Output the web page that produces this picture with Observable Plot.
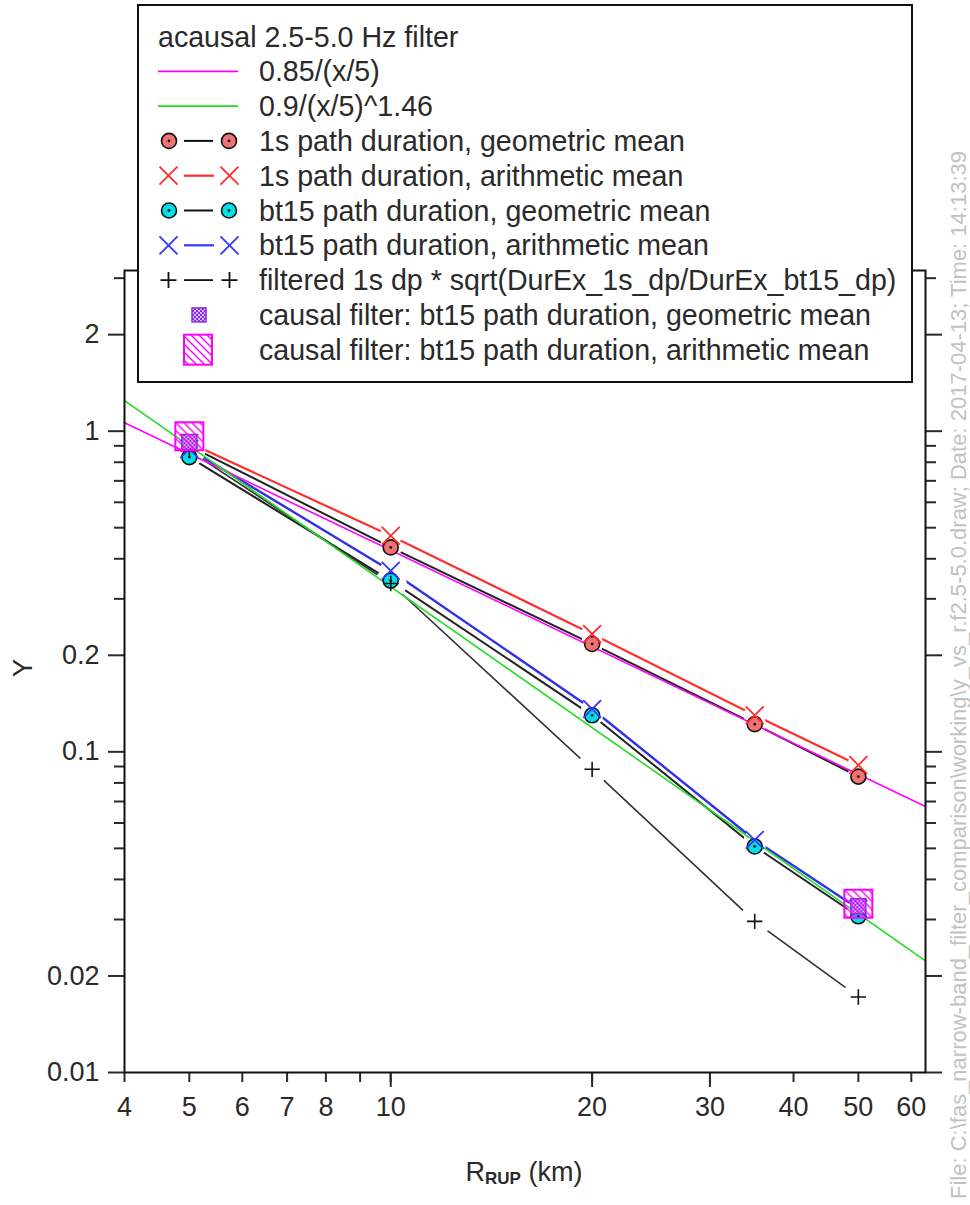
<!DOCTYPE html>
<html><head><meta charset="utf-8">
<script src="https://cdn.jsdelivr.net/npm/d3@7"></script>
<script src="https://cdn.jsdelivr.net/npm/@observablehq/plot@0.6"></script>
<style>
html,body{margin:0;padding:0;background:#fff;}
#wrap{position:relative;width:970px;height:1205px;overflow:hidden;font-family:"Liberation Sans",Arial,sans-serif;}
#wrap svg{position:absolute;left:0;top:0;}
</style></head><body>
<svg width="0" height="0" style="position:absolute">
<defs>
<pattern id="checker" width="4" height="4" patternUnits="userSpaceOnUse">
<rect width="4" height="4" fill="#8a2be2"/><rect x="0" y="0" width="2" height="2" fill="#d9b8ff"/><rect x="2" y="2" width="2" height="2" fill="#d9b8ff"/>
</pattern>
<pattern id="hatch" width="8" height="8" patternUnits="userSpaceOnUse">
<path d="M0,0L8,8M-4,4L4,12M4,-4L12,4" stroke="#ff00ff" stroke-width="1.4" fill="none"/>
</pattern>
</defs></svg>
<div id="wrap"></div>
<script>
// ---- data ----
const distanceKm = [5, 10, 20, 35, 50];
const geoMean1s = [0.90, 0.434, 0.217, 0.122, 0.0837];
const arithMean1s = [0.92, 0.472, 0.233, 0.130, 0.0909];
const geoMeanBt15 = [0.83, 0.342, 0.130, 0.0507, 0.0307];
const arithMeanBt15 = [0.88, 0.367, 0.136, 0.0531, 0.0324];
const filtered1s = [0.87, 0.335, 0.0882, 0.0296, 0.0172];
const causalDistanceKm = [5, 50];
const causalGeoBt15 = [0.925, 0.033];
const causalArithBt15 = [0.965, 0.0336];
const fitDistanceKm = [4, 63];
const fitInverse = [1.063, 0.0675];   // 0.85/(x/5)
const fitPower = [1.246, 0.0223];     // 0.9/(x/5)^1.46
const xTickLabels = [4, 5, 6, 7, 8, 9, 10, 20, 30, 40, 50, 60];
const xLongTicks = [10, 20, 30];
const yTickLabels = [0.01, 0.02, 0.1, 0.2, 1, 2];
const yMinorTicks = [0.03, 0.04, 0.05, 0.06, 0.07, 0.08, 0.09, 0.3, 0.4, 0.5, 0.6, 0.7, 0.8, 0.9, 3];

const rows = (xs, ys) => xs.map((x, i) => ({x, y: ys[i]}));
const g1 = rows(distanceKm, geoMean1s);
const a1 = rows(distanceKm, arithMean1s);
const gb = rows(distanceKm, geoMeanBt15);
const ab = rows(distanceKm, arithMeanBt15);
const fl = rows(distanceKm, filtered1s);
const cg = rows(causalDistanceKm, causalGeoBt15);
const ca = rows(causalDistanceKm, causalArithBt15);
const f1 = rows(fitDistanceKm, fitInverse);
const f2 = rows(fitDistanceKm, fitPower);
const allPts = [...g1, ...a1, ...gb, ...ab];

const chart = Plot.plot({
  width: 970, height: 1205,
  marginLeft: 124, marginRight: 45, marginTop: 270, marginBottom: 133,
  x: {type: "log", domain: [4, 63]},
  y: {type: "log", domain: [0.01, 3.17]},
  style: {fontFamily: "'Liberation Sans', Arial, sans-serif", fontSize: "27px", color: "#2a2a2a", background: "white", overflow: "visible"},
  marks: [
    Plot.axisY(yTickLabels, {anchor: "left", tickSize: 16, tickPadding: 9, strokeWidth: 2, tickFormat: d => String(d), label: null}),
    Plot.axisY(yMinorTicks, {anchor: "left", tickSize: 10, strokeWidth: 2, tickFormat: () => "", label: null}),
    Plot.axisY(yTickLabels, {anchor: "right", tickSize: 16, strokeWidth: 2, tickFormat: () => "", label: null}),
    Plot.axisY(yMinorTicks, {anchor: "right", tickSize: 10, strokeWidth: 2, tickFormat: () => "", label: null}),
    Plot.axisX(xTickLabels, {anchor: "bottom", tickSize: 10, tickPadding: 14, strokeWidth: 2, tickFormat: d => String(d), label: null}),
    Plot.axisX(xLongTicks, {anchor: "bottom", tickSize: 15, strokeWidth: 2, tickFormat: () => "", label: null}),
    Plot.line(g1, {x: "x", y: "y", stroke: "#222", strokeWidth: 2}),
    Plot.line(a1, {x: "x", y: "y", stroke: "#ff2e2e", strokeWidth: 2.2}),
    Plot.line(gb, {x: "x", y: "y", stroke: "#222", strokeWidth: 2}),
    Plot.line(ab, {x: "x", y: "y", stroke: "#3030e8", strokeWidth: 2.4}),
    Plot.line(fl, {x: "x", y: "y", stroke: "#333", strokeWidth: 1.6}),
    Plot.dot(allPts, {x: "x", y: "y", r: 11, fill: "white"}),
    Plot.dot(fl, {x: "x", y: "y", r: 16, fill: "white"}),
    Plot.line(f1, {x: "x", y: "y", stroke: "#ff00ff", strokeWidth: 1.6}),
    Plot.line(f2, {x: "x", y: "y", stroke: "#22dd22", strokeWidth: 1.6}),
    Plot.dot(g1, {x: "x", y: "y", r: 7.5, fill: "#f07272", stroke: "#111", strokeWidth: 1.6}),
    Plot.dot(g1, {x: "x", y: "y", r: 1.4, fill: "#111"}),
    Plot.dot(a1, {x: "x", y: "y", symbol: "times", r: 8.2, stroke: "#ff2e2e", strokeWidth: 1.8}),
    Plot.dot(gb, {x: "x", y: "y", r: 7.5, fill: "#00e0e8", stroke: "#111", strokeWidth: 1.6}),
    Plot.dot(gb, {x: "x", y: "y", r: 1.4, fill: "#111"}),
    Plot.dot(ab, {x: "x", y: "y", symbol: "times", r: 8.2, stroke: "#3535ff", strokeWidth: 1.8}),
    Plot.dot(fl, {x: "x", y: "y", symbol: "plus", r: 5, stroke: "#111", strokeWidth: 1.6}),
    Plot.dot(cg, {x: "x", y: "y", symbol: "square", r: 8.4, fill: "url(#checker)", stroke: "#8a2be2", strokeWidth: 1.5}),
    Plot.dot(ca, {x: "x", y: "y", symbol: "square", r: 15.8, fill: "url(#hatch)", stroke: "#ff00ff", strokeWidth: 2}),
    Plot.frame({stroke: "#111", strokeWidth: 2})
  ]
});
document.getElementById("wrap").appendChild(chart);

const svg = d3.select(chart);
// axis titles
svg.append("text").attr("transform", "translate(23,668) rotate(-90)")
  .attr("text-anchor", "middle").attr("dominant-baseline", "central")
  .attr("font-size", 27).attr("fill", "#2a2a2a").text("Y");
const xl = svg.append("text").attr("x", 524).attr("y", 1172)
  .attr("text-anchor", "middle").attr("dominant-baseline", "central")
  .attr("font-size", 27).attr("fill", "#2a2a2a");
xl.append("tspan").text("R");
xl.append("tspan").attr("font-size", 17).attr("font-weight", "bold").attr("dy", 6).text("RUP");
xl.append("tspan").attr("dy", -6).text(" (km)");
// file stamp
svg.append("text").attr("transform", "translate(958,1199) rotate(-90)")
  .attr("text-anchor", "start").attr("dominant-baseline", "central")
  .attr("font-size", 22).attr("fill", "#c2c2c2")
  .text("File: C:\\fas_narrow-band_filter_comparison\\working\\y_vs_r.f2.5-5.0.draw; Date: 2017-04-13; Time: 14:13:39");

// legend overlay
const leg = d3.select("#wrap").append("svg").attr("width", 970).attr("height", 400)
  .style("font-family", "'Liberation Sans', Arial, sans-serif");
leg.append("rect").attr("x", 138).attr("y", 5).attr("width", 774).attr("height", 377)
  .attr("fill", "white").attr("stroke", "#111").attr("stroke-width", 2);
const rowY = i => 36.5 + 34.8 * i;
const labels = ["acausal 2.5-5.0 Hz filter", "0.85/(x/5)", "0.9/(x/5)^1.46",
  "1s path duration, geometric mean", "1s path duration, arithmetic mean",
  "bt15 path duration, geometric mean", "bt15 path duration, arithmetic mean",
  "filtered 1s dp * sqrt(DurEx_1s_dp/DurEx_bt15_dp)",
  "causal filter: bt15 path duration, geometric mean",
  "causal filter: bt15 path duration, arithmetic mean"];
labels.forEach((t, i) => {
  leg.append("text").attr("x", i === 0 ? 158 : 259).attr("y", rowY(i))
    .attr("dominant-baseline", "central").attr("font-size", 28.6).attr("fill", "#2a2a2a").text(t);
});
const seg = (i, c, x1, x2, w) => leg.append("line").attr("x1", x1).attr("x2", x2)
  .attr("y1", rowY(i)).attr("y2", rowY(i)).attr("stroke", c).attr("stroke-width", w);
seg(1, "#ff00ff", 158, 238, 1.8);
seg(2, "#22dd22", 158, 238, 1.8);
const circ = (i, fill) => {
  seg(i, "#111", 184, 213, 2);
  [169, 229].forEach(cx => {
    leg.append("circle").attr("cx", cx).attr("cy", rowY(i)).attr("r", 7.5).attr("fill", fill).attr("stroke", "#111").attr("stroke-width", 1.6);
    leg.append("circle").attr("cx", cx).attr("cy", rowY(i)).attr("r", 1.4).attr("fill", "#111");
  });
};
const ex = (i, c) => {
  seg(i, c, 184, 214, 2.2);
  [168.5, 229.5].forEach(cx => {
    const y = rowY(i);
    leg.append("path").attr("d", `M${cx-9},${y-9}L${cx+9},${y+9}M${cx-9},${y+9}L${cx+9},${y-9}`)
      .attr("stroke", c).attr("stroke-width", 1.8).attr("fill", "none");
  });
};
circ(3, "#f07272");
ex(4, "#ff2e2e");
circ(5, "#00e0e8");
ex(6, "#3535ff");
seg(7, "#111", 184, 213, 1.8);
[168.5, 229.5].forEach(cx => {
  const y = rowY(7);
  leg.append("path").attr("d", `M${cx-8},${y}L${cx+8},${y}M${cx},${y-8}L${cx},${y+8}`)
    .attr("stroke", "#111").attr("stroke-width", 1.8);
});
leg.append("rect").attr("x", 199 - 7).attr("y", rowY(8) - 7).attr("width", 14).attr("height", 14)
  .attr("fill", "url(#checker)").attr("stroke", "#8a2be2").attr("stroke-width", 1.5);
leg.append("rect").attr("x", 198 - 14).attr("y", rowY(9) - 15).attr("width", 28).attr("height", 30)
  .attr("fill", "url(#hatch)").attr("stroke", "#ff00ff").attr("stroke-width", 2);
</script>
</body></html>
